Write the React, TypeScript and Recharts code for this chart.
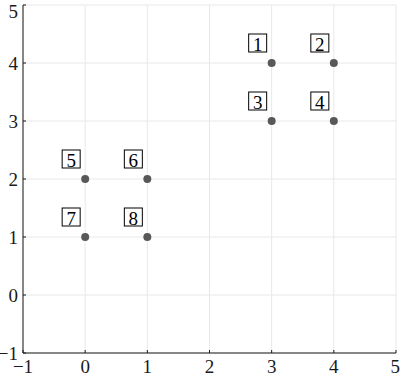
import React from 'react';
import { ScatterChart, Scatter, XAxis, YAxis, CartesianGrid } from 'recharts';

const xValues = [3, 4, 3, 4, 0, 1, 0, 1];
const yValues = [4, 4, 3, 3, 2, 2, 1, 1];
const pointLabels = ['1', '2', '3', '4', '5', '6', '7', '8'];
const xTicks = [-1, 0, 1, 2, 3, 4, 5];
const yTicks = [-1, 0, 1, 2, 3, 4, 5];

const data = xValues.map((x, i) => ({ x, y: yValues[i], label: pointLabels[i] }));

const FONT = 'Liberation Serif';
const AXIS = '#1a1a1a';

const fmt = (v: number) => (v < 0 ? '\u2212' + Math.abs(v) : String(v));

const PointShape = (props: any) => {
  const { cx, cy, payload } = props;
  const bw = 18;
  const bh = 18;
  const bx = cx - 23;
  const by = cy - 29;
  return (
    <g>
      <rect x={bx} y={by} width={bw} height={bh} fill="#ffffff" stroke="#000000" strokeWidth={1} />
      <text
        x={bx + bw / 2}
        y={by + bh / 2 + 1}
        textAnchor="middle"
        dominantBaseline="central"
        fontFamily={FONT}
        fontSize={19}
        fill="#000000"
      >
        {payload.label}
      </text>
      <circle cx={cx} cy={cy} r={4} fill="#585858" />
    </g>
  );
};

export default function App() {
  const tickStyle = { fontFamily: FONT, fontSize: 19, fill: AXIS };
  return (
    <div style={{ position: 'absolute', left: 0, top: 0, background: '#fff' }}>
      <ScatterChart width={400} height={373} margin={{ top: 5, right: 4, left: 0, bottom: 0 }}>
        <CartesianGrid stroke="#e8e8e8" strokeWidth={1} />
        <XAxis
          dataKey="x"
          type="number"
          domain={[-1, 5]}
          ticks={xTicks}
          height={20}
          tickSize={-3}
          tickMargin={10}
          tick={tickStyle}
          tickFormatter={fmt}
          axisLine={{ stroke: AXIS }}
          tickLine={{ stroke: AXIS }}
          allowDataOverflow
        />
        <XAxis
          xAxisId="top"
          orientation="top"
          type="number"
          domain={[-1, 5]}
          ticks={xTicks}
          height={0}
          tickSize={-3}
          tick={false}
          axisLine={{ stroke: AXIS }}
          tickLine={{ stroke: AXIS }}
          allowDataOverflow
        />
        <YAxis
          dataKey="y"
          type="number"
          domain={[-1, 5]}
          ticks={yTicks}
          width={23}
          tickSize={-3}
          tickMargin={8}
          tick={tickStyle}
          tickFormatter={fmt}
          axisLine={{ stroke: AXIS }}
          tickLine={{ stroke: AXIS }}
          allowDataOverflow
        />
        <YAxis
          yAxisId="right"
          orientation="right"
          type="number"
          domain={[-1, 5]}
          ticks={yTicks}
          width={0}
          tickSize={-3}
          tick={false}
          axisLine={{ stroke: AXIS }}
          tickLine={{ stroke: AXIS }}
          allowDataOverflow
        />
        <Scatter data={data} shape={PointShape} isAnimationActive={false} />
      </ScatterChart>
    </div>
  );
}
